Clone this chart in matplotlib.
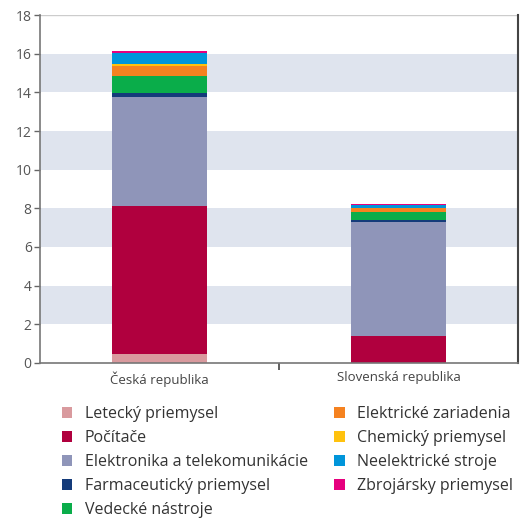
import matplotlib
matplotlib.use("Agg")
import matplotlib.pyplot as plt
from matplotlib.patches import Patch

plt.rcParams["font.family"] = ["Open Sans", "DejaVu Sans"]

countries = ["Česká republika", "Slovenská republika"]
sectors = [
    "Letecký priemysel",
    "Počítače",
    "Elektronika a telekomunikácie",
    "Farmaceutický priemysel",
    "Vedecké nástroje",
    "Elektrické zariadenia",
    "Chemický priemysel",
    "Neelektrické stroje",
    "Zbrojársky priemysel",
]
colors = ["#d99a9e", "#b0003e", "#8f95b9", "#143b7a", "#0aad4a",
          "#f58220", "#ffc20e", "#0095da", "#e6007e"]

# values per sector: [CZ, SK]
letecky = [0.45, 0.0]
pocitace = [7.65, 1.42]
elektronika = [5.68, 5.88]
farma = [0.19, 0.1]
vedecke = [0.88, 0.41]
elektricke = [0.52, 0.2]
chemicky = [0.1, 0.03]
neelektricke = [0.56, 0.15]
zbrojarsky = [0.1, 0.06]
series = [letecky, pocitace, elektronika, farma, vedecke,
          elektricke, chemicky, neelektricke, zbrojarsky]

yticks = [0, 2, 4, 6, 8, 10, 12, 14, 16, 18]
bands = [(2, 4), (6, 8), (10, 12), (14, 16)]

fig = plt.figure(figsize=(5.23, 5.2), dpi=100)
ax = fig.add_axes([0.0765, 0.302, 0.914, 0.669])

for lo, hi in bands:
    ax.axhspan(lo, hi, color="#dfe4ee", lw=0, zorder=0)
ax.axhline(18, color="#cccccc", lw=1.0, zorder=1)

x = range(len(countries))
bottom = [0.0] * len(countries)
for vals, col, name in zip(series, colors, sectors):
    ax.bar(x, vals, bottom=bottom, width=0.4, color=col, lw=0, zorder=2, label=name)
    bottom = [b + v for b, v in zip(bottom, vals)]

ax.set_xlim(-0.5, 1.5)
ax.set_ylim(0, 18)
ax.set_yticks(yticks)
ax.set_xticks([0, 1])
ax.set_xticklabels(countries)
ax.set_xticks([0.5], minor=True)
ax.tick_params(axis="x", which="major", length=0, labelsize=9.5, labelcolor="#444444", pad=6)
ax.tick_params(axis="x", which="minor", length=5, width=1.2, color="#444444")
ax.tick_params(axis="y", length=4, width=1, color="#666666", labelsize=10,
               labelcolor="#555555", pad=2)

for s in ["left", "bottom"]:
    ax.spines[s].set_color("#777777")
    ax.spines[s].set_linewidth(1.2)
ax.spines["top"].set_visible(False)
ax.spines["right"].set_color("#444444")
ax.spines["right"].set_linewidth(1.5)

handles = [Patch(facecolor=c, edgecolor="none", label=n) for c, n in zip(colors, sectors)]
fig.legend(handles=handles, ncol=2, loc="upper left", bbox_to_anchor=(0.1185, 0.219),
           frameon=False, fontsize=11.5, handlelength=0.65, handleheight=0.65,
           handletextpad=0.78, labelspacing=0.5, columnspacing=1.65,
           labelcolor="#333333", borderpad=0, borderaxespad=0)

fig.savefig("out.png", dpi=100)
